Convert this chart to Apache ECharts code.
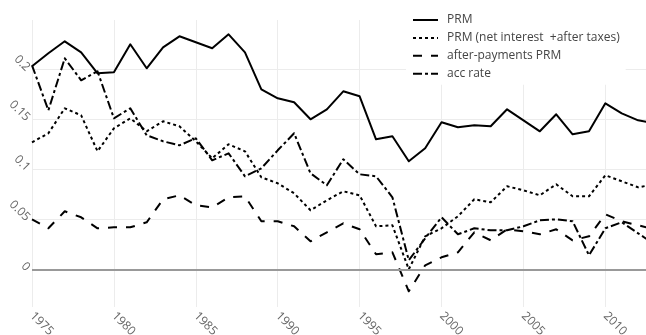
<!DOCTYPE html>
<html>
<head>
<meta charset="utf-8">
<style>
  html, body { margin: 0; padding: 0; background: #fff; }
  #chart { width: 646px; height: 335px; }
</style>
<script src="https://cdn.jsdelivr.net/npm/echarts@6/dist/echarts.min.js"></script>
</head>
<body>
<div id="chart"></div>
<script>
// Years of observation
const years = [
  1975, 1976, 1977, 1978, 1979, 1980, 1981, 1982, 1983, 1984,
  1985, 1986, 1987, 1988, 1989, 1990, 1991, 1992, 1993, 1994,
  1995, 1996, 1997, 1998, 1999, 2000, 2001, 2002, 2003, 2004,
  2005, 2006, 2007, 2008, 2009, 2010, 2011, 2012, 2013
];

// PRM
const prm = [
  0.203, 0.216, 0.228, 0.217, 0.196, 0.197, 0.225, 0.201, 0.222, 0.233,
  0.227, 0.221, 0.235, 0.217, 0.180, 0.171, 0.167, 0.150, 0.160, 0.178,
  0.173, 0.130, 0.133, 0.108, 0.121, 0.147, 0.142, 0.144, 0.143, 0.160,
  0.149, 0.138, 0.155, 0.135, 0.138, 0.166, 0.156, 0.149, 0.146
];

// PRM (net interest + after taxes)
const prmNet = [
  0.127, 0.136, 0.161, 0.154, 0.118, 0.141, 0.151, 0.138, 0.148, 0.143,
  0.128, 0.111, 0.125, 0.118, 0.092, 0.086, 0.076, 0.059, 0.069, 0.078,
  0.074, 0.043, 0.044, 0.000, 0.033, 0.041, 0.053, 0.070, 0.067, 0.083,
  0.079, 0.074, 0.085, 0.073, 0.073, 0.094, 0.088, 0.082, 0.085
];

// after-payments PRM
const prmAfterPayments = [
  0.050, 0.041, 0.058, 0.052, 0.041, 0.042, 0.042, 0.047, 0.070, 0.074,
  0.064, 0.062, 0.072, 0.073, 0.048, 0.048, 0.043, 0.028, 0.037, 0.046,
  0.040, 0.015, 0.017, -0.022, 0.004, 0.012, 0.017, 0.037, 0.029, 0.040,
  0.038, 0.035, 0.040, 0.029, 0.033, 0.055, 0.048, 0.044, 0.040
];

// accumulation rate
const accRate = [
  0.204, 0.159, 0.211, 0.189, 0.198, 0.151, 0.161, 0.134, 0.128, 0.124,
  0.131, 0.109, 0.116, 0.093, 0.101, 0.119, 0.136, 0.096, 0.084, 0.110,
  0.095, 0.093, 0.072, 0.009, 0.031, 0.052, 0.035, 0.041, 0.039, 0.039,
  0.043, 0.049, 0.050, 0.048, 0.014, 0.041, 0.047, 0.036, 0.025
];

// Tick labels
const xTicks = [1975, 1980, 1985, 1990, 1995, 2000, 2005, 2010];
const yTicks = [0, 0.05, 0.1, 0.15, 0.2];

const seriesNames = [
  'PRM',
  'PRM (net interest  +after taxes)',
  'after-payments PRM',
  'acc rate'
];

const pairs = vals => years.map((y, i) => [y, vals[i]]);

const FONT = '"Open Sans", "DejaVu Sans", sans-serif';
const INK = '#000';

function lineSeries(name, vals, dash, extra) {
  return Object.assign({
    name: name,
    type: 'line',
    data: pairs(vals),
    symbol: 'none',
    showSymbol: false,
    clip: true,
    lineStyle: { color: INK, width: 2, type: dash, join: 'round' },
    itemStyle: { color: INK },
    emphasis: { disabled: true },
    animation: false
  }, extra || {});
}

const chart = echarts.init(document.getElementById('chart'), null, { renderer: 'canvas' });

chart.setOption({
  backgroundColor: '#fff',
  animation: false,
  grid: {
    left: 32, right: 0, top: 20, bottom: 28,
    containLabel: false,
    outerBoundsMode: 'none'
  },
  legend: {
    orient: 'vertical',
    left: 406,
    top: 9,
    padding: [5, 6, 5, 6],
    itemWidth: 25,
    itemHeight: 14,
    itemGap: 5.9,
    backgroundColor: '#fff',
    selectedMode: false,
    itemStyle: { color: 'rgba(0,0,0,0)', borderColor: 'rgba(0,0,0,0)', borderWidth: 0, opacity: 0 },
    textStyle: { fontFamily: FONT, fontSize: 12, color: '#444', padding: [0, 0, 0, 4] },
    data: seriesNames
  },
  xAxis: {
    type: 'value',
    min: 1975,
    max: 2012.48,
    axisLine: { show: false },
    axisTick: { show: false, customValues: xTicks },
    splitLine: { show: true, lineStyle: { color: '#ececec', width: 1 } },
    axisLabel: {
      customValues: xTicks,
      rotate: -45,
      margin: 7,
      color: '#666',
      fontFamily: FONT,
      fontSize: 12,
      formatter: v => String(v)
    }
  },
  yAxis: {
    type: 'value',
    min: -0.0377,
    max: 0.2493,
    axisLine: { show: false },
    axisTick: { show: false, customValues: yTicks },
    splitLine: { show: true, lineStyle: { color: '#ececec', width: 1 } },
    axisLabel: {
      customValues: yTicks,
      rotate: -45,
      margin: 4,
      color: '#666',
      fontFamily: FONT,
      fontSize: 12,
      formatter: v => String(v)
    }
  },
  series: [
    lineSeries(seriesNames[0], prm, 'solid', {
      markLine: {
        silent: true,
        symbol: ['none', 'none'],
        label: { show: false },
        lineStyle: { color: '#999', width: 2, type: 'solid' },
        data: [{ yAxis: 0 }],
        animation: false
      }
    }),
    lineSeries(seriesNames[1], prmNet, [3, 3]),
    lineSeries(seriesNames[2], prmAfterPayments, [9, 9]),
    lineSeries(seriesNames[3], accRate, [9, 3, 3, 3])
  ]
});
</script>
</body>
</html>
